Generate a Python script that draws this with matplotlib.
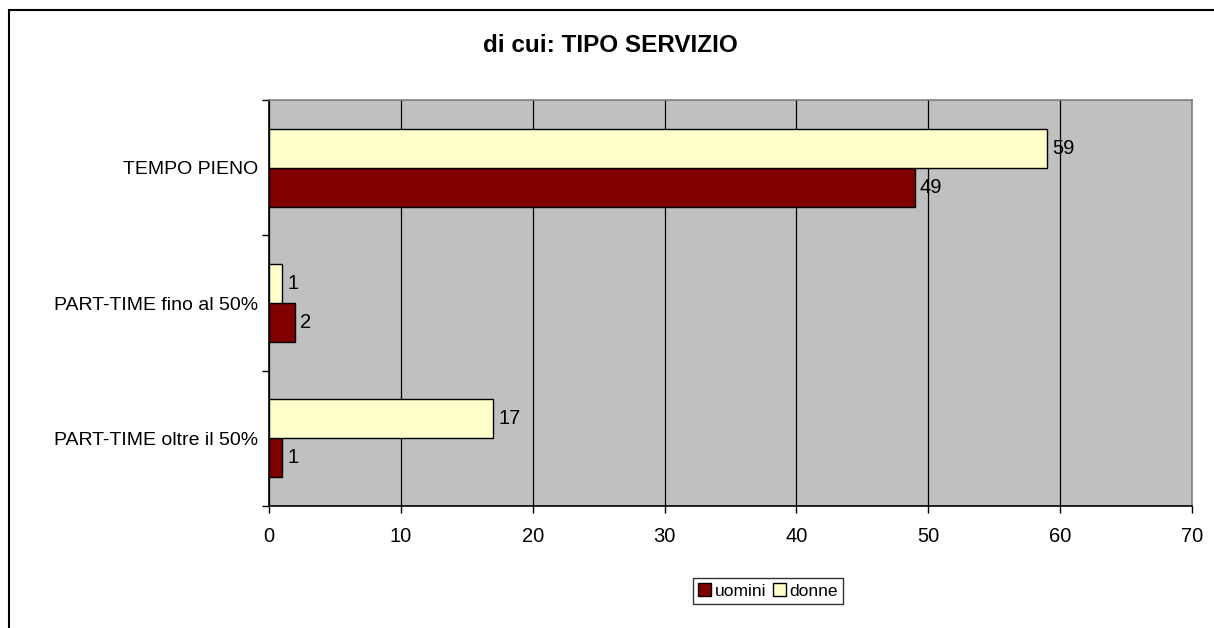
import matplotlib
matplotlib.use("Agg")
import matplotlib.pyplot as plt
from matplotlib.patches import Rectangle, Patch

categories = ["TEMPO PIENO", "PART-TIME fino al 50%", "PART-TIME oltre il 50%"]
uomini = [49, 2, 1]
donne = [59, 1, 17]
title = "di cui: TIPO SERVIZIO"
xticks = [0, 10, 20, 30, 40, 50, 60, 70]

plt.rcParams['font.family'] = ['Liberation Sans', 'DejaVu Sans']

W, H = 1214, 628
fig = plt.figure(figsize=(W / 100, H / 100), dpi=100)
fig.patch.set_facecolor('white')

# figure border
fig.add_artist(Rectangle((9 / W, -0.05), 1.1, 1 - 10 / H + 0.05, transform=fig.transFigure,
                         fill=False, edgecolor='black', linewidth=1.5))

ax = fig.add_axes([269 / W, 1 - 506 / H, (1192 - 269) / W, (506 - 100) / H])
ax.set_facecolor('#C0C0C0')

h = 0.288
ypos = list(range(len(categories)))
yd = [y - h / 2 for y in ypos]
yu = [y + h / 2 for y in ypos]
ax.barh(yu, uomini, height=h, color='#800000', edgecolor='black', linewidth=1.0, zorder=3, label='uomini')
ax.barh(yd, donne, height=h, color='#FFFFCC', edgecolor='black', linewidth=1.0, zorder=3, label='donne')

for y, v in zip(yu, uomini):
    ax.annotate(str(v), (v, y), xytext=(3.5, 0), textcoords='offset points', va='center', ha='left',
                fontsize=14.5, zorder=4)
for y, v in zip(yd, donne):
    ax.annotate(str(v), (v, y), xytext=(3.5, 0), textcoords='offset points', va='center', ha='left',
                fontsize=14.5, zorder=4)

ax.set_xlim(0, 70)
ax.set_ylim(len(categories) - 0.5, -0.5)
ax.set_xticks(xticks)
ax.set_xticklabels([str(t) for t in xticks], fontsize=14.5)
ax.set_yticks(ypos)
ax.set_yticklabels(categories, fontsize=14)
ax.tick_params(axis='y', which='major', length=0, pad=8)
ax.set_yticks([i - 0.5 for i in range(len(categories) + 1)], minor=True)
ax.tick_params(axis='y', which='minor', length=5, width=1, direction='out')
ax.tick_params(axis='x', length=5, width=1, direction='out', pad=10)
ax.grid(axis='x', color='black', linewidth=0.9, zorder=1)
ax.set_axisbelow(True)
for s in ['top', 'right']:
    ax.spines[s].set_color('#808080')
    ax.spines[s].set_linewidth(1.2)
for s in ['left', 'bottom']:
    ax.spines[s].set_color('black')
    ax.spines[s].set_linewidth(1.2)

fig.text(0.503, 1 - 46 / H, title, ha='center', va='center', fontsize=17.5, fontweight='bold')

handles = [Patch(facecolor='#800000', edgecolor='black'), Patch(facecolor='#FFFFCC', edgecolor='black')]
leg = fig.legend(handles, ['uomini', 'donne'], loc='center', bbox_to_anchor=(768 / W, 1 - 591 / H),
                 ncol=2, fontsize=12.5, frameon=True, fancybox=False, edgecolor='black',
                 handlelength=0.75, handleheight=0.75, handletextpad=0.2, columnspacing=0.4,
                 borderpad=0.3)
leg.get_frame().set_linewidth(1.0)

fig.savefig('out.png', dpi=100)
